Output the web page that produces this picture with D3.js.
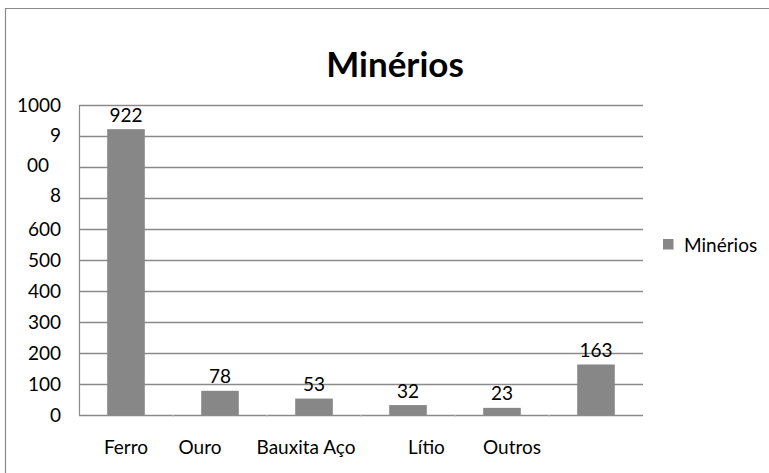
<!DOCTYPE html>
<html>
<head>
<meta charset="utf-8">
<script src="https://cdn.jsdelivr.net/npm/d3@7"></script>
<style>
  html, body { margin: 0; padding: 0; background: #fff; }
  svg text { font-family: Lato, "Open Sans", sans-serif; fill: #000; }
</style>
</head>
<body>
<svg id="chart" width="769" height="473"></svg>
<script>
// ---- data ----
const title = "Minérios";
const seriesName = "Minérios";
const categories = ["Ferro", "Ouro", "Bauxita", "Aço", "Lítio", "Outros"];
const values = [922, 78, 53, 32, 23, 163];
const xTickLabels = ["Ferro", "Ouro", "Bauxita Aço", "Lítio", "Outros", ""];
const yTickValues = [0, 100, 200, 300, 400, 500, 600, 700, 800, 900, 1000];
const yTickLabels = ["0", "100", "200", "300", "400", "500", "600", "8", "00", "9", "1000"];

// ---- layout ----
const W = 769, H = 473;
const plot = { left: 79, right: 643, top: 105, bottom: 415 };
const grey = "#8a8a8a";
const barColor = "#878787";
const fs = 19;

const svg = d3.select("#chart");

// outer frame (left and top edges visible)
svg.append("path")
  .attr("d", `M5.5,${H} V8.5 H${W}`)
  .attr("fill", "none").attr("stroke", grey).attr("stroke-width", 1.2);

const x = d3.scaleBand().domain(categories)
  .range([plot.left, plot.right]).paddingInner(0.6).paddingOuter(0.3);
const y = d3.scaleLinear().domain([0, 1000]).range([plot.bottom, plot.top]);

// gridlines
svg.append("g").selectAll("line").data(yTickValues.filter(v => v > 0)).join("line")
  .attr("x1", plot.left).attr("x2", plot.right)
  .attr("y1", d => Math.round(y(d)) + 0.5).attr("y2", d => Math.round(y(d)) + 0.5)
  .attr("stroke", grey).attr("stroke-width", 1.3);

// y axis line
svg.append("line")
  .attr("x1", plot.left + 0.5).attr("x2", plot.left + 0.5)
  .attr("y1", y(1000)).attr("y2", y(0))
  .attr("stroke", grey).attr("stroke-width", 1.2);

// bars
svg.append("g").selectAll("rect").data(values).join("rect")
  .attr("x", (d, i) => x(categories[i]))
  .attr("width", x.bandwidth())
  .attr("y", d => y(d))
  .attr("height", d => y(0) - y(d))
  .attr("fill", barColor);

// baseline
svg.append("line")
  .attr("x1", plot.left).attr("x2", plot.right)
  .attr("y1", Math.round(y(0)) + 0.5).attr("y2", Math.round(y(0)) + 0.5)
  .attr("stroke", grey).attr("stroke-width", 1.4);

// category boundary ticks
const step = x.step();
svg.append("g").selectAll("line").data(d3.range(1, categories.length)).join("line")
  .attr("x1", d => plot.left + d * step).attr("x2", d => plot.left + d * step)
  .attr("y1", y(0)).attr("y2", y(0) + 2)
  .attr("stroke", "#c8c8c8").attr("stroke-width", 1);

// data labels
svg.append("g").selectAll("text").data(values).join("text")
  .attr("x", (d, i) => x(categories[i]) + x.bandwidth() / 2)
  .attr("y", d => y(d) - 7.5)
  .attr("text-anchor", "middle")
  .attr("font-size", fs)
  .text(d => d);

// y tick labels
const yNudge = { "00": { dx: -12, dy: -2 }, "8": { dx: 0, dy: -3 }, "9": { dx: 0, dy: -1 } };
svg.append("g").selectAll("text").data(yTickValues).join("text")
  .attr("x", (d, i) => 61 + ((yNudge[yTickLabels[i]] || {}).dx || 0))
  .attr("y", (d, i) => y(d) + ((yNudge[yTickLabels[i]] || {}).dy || 0))
  .attr("dy", "0.36em")
  .attr("text-anchor", "end")
  .attr("font-size", fs)
  .text((d, i) => yTickLabels[i]);

// x tick labels (as laid out in the reference)
const xNudge = [0, -20, -8, 18.5, 10, 0];
svg.append("g").selectAll("text").data(xTickLabels).join("text")
  .attr("x", (d, i) => x(categories[i]) + x.bandwidth() / 2 + xNudge[i])
  .attr("y", 447)
  .attr("dy", "0.36em")
  .attr("text-anchor", "middle")
  .attr("font-size", fs)
  .text(d => d);

// title
svg.append("text")
  .attr("x", 395).attr("y", 64)
  .attr("dy", "0.36em")
  .attr("text-anchor", "middle")
  .attr("font-size", 35)
  .attr("font-weight", "bold")
  .text(title);

// legend
svg.append("rect").attr("x", 663).attr("y", 239).attr("width", 10.5).attr("height", 10.5)
  .attr("fill", barColor);
svg.append("text").attr("x", 684).attr("y", 245).attr("dy", "0.36em")
  .attr("font-size", fs).text(seriesName);
</script>
</body>
</html>
